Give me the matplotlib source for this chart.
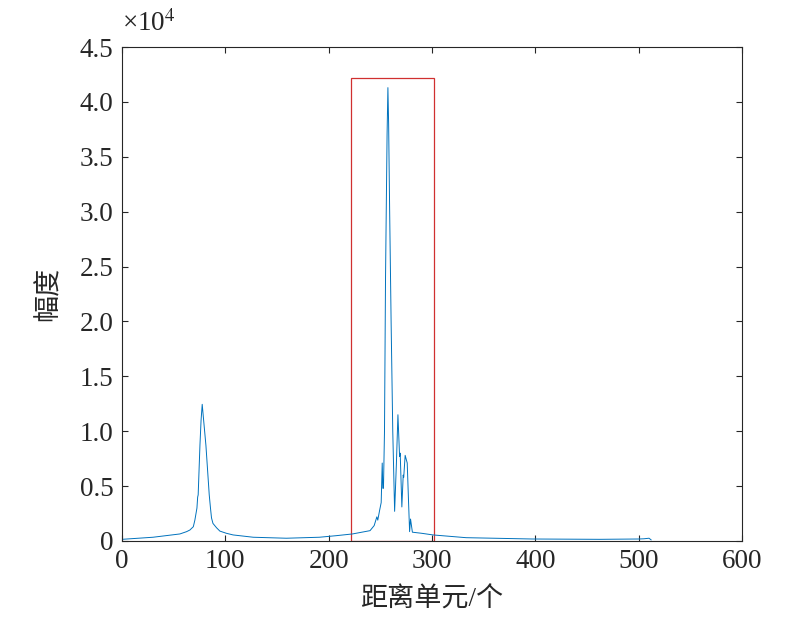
import matplotlib
matplotlib.use('Agg')
import matplotlib.pyplot as plt
from matplotlib.patches import Rectangle

plt.rcParams['font.family'] = ['Liberation Serif', 'Noto Sans CJK SC']
plt.rcParams['mathtext.fontset'] = 'stix'

# range cell index and amplitude (x1e4)
cells = [0, 30, 56, 62.5, 65.7, 69, 70.5, 72.5, 73.2, 73.7, 75.4, 76.5, 77.6, 78.5,
         81.2, 84.4, 85.6, 86.6, 88, 91.5, 94.7, 101, 107.5, 127, 159, 191, 207, 223,
         240, 244, 246.6, 247.5, 249.3, 250.8, 251.8, 252.4, 253, 254, 255, 256.5,
         257.3, 258, 259, 260.4, 262, 263.8, 265.5, 267, 268.6, 269.2, 270.8, 272.1,
         272.6, 274, 276, 277.3, 278.3, 279.2, 281, 290, 301, 333, 397, 462, 500,
         505, 510, 512]
amp = [0.015, 0.034, 0.064, 0.085, 0.10, 0.13, 0.19, 0.30, 0.40, 0.42, 0.87, 1.10, 1.245, 1.15,
       0.87, 0.42, 0.30, 0.21, 0.16, 0.12, 0.09, 0.07, 0.055, 0.034, 0.025, 0.034, 0.048, 0.064,
       0.094, 0.14, 0.22, 0.19, 0.28, 0.35, 0.71, 0.48, 0.48, 1.0, 2.4, 3.7,
       4.13, 3.8, 3.0, 2.0, 1.0, 0.27, 0.7, 1.15, 0.77, 0.80, 0.31, 0.60,
       0.58, 0.78, 0.71, 0.35, 0.085, 0.20, 0.08, 0.07, 0.055, 0.03, 0.018, 0.015, 0.018,
       0.02, 0.025, 0.01]

xticks = [0, 100, 200, 300, 400, 500, 600]
yticks = [0, 0.5, 1.0, 1.5, 2.0, 2.5, 3.0, 3.5, 4.0, 4.5]
ytick_labels = ['0', '0.5', '1.0', '1.5', '2.0', '2.5', '3.0', '3.5', '4.0', '4.5']

# highlighted target region
box_x0, box_x1, box_top = 222, 302, 4.22

fig = plt.figure(figsize=(8.07, 6.27), dpi=100)
ax = fig.add_axes([0.1512, 0.1372, 0.7683, 0.7878])

ax.plot(cells, amp, color='#0072BD', lw=0.7)
ax.add_patch(Rectangle((box_x0, 0), box_x1 - box_x0, box_top,
                       fill=False, edgecolor='#d03030', lw=0.9))

ax.set_xlim(0, 600)
ax.set_ylim(0, 4.5)
ax.set_xticks(xticks)
ax.set_yticks(yticks)
ax.set_yticklabels(ytick_labels)
ax.tick_params(direction='in', length=4, width=0.8, top=True, right=True,
               labelsize=19.5, colors='#262626', pad=6)
for s in ax.spines.values():
    s.set_color('#262626')
    s.set_linewidth(0.8)

ax.set_xlabel('距离单元/个', fontsize=19.5, color='#262626', labelpad=9)
ax.set_ylabel('幅度', fontsize=19.5, color='#262626', labelpad=13)
ax.text(0, 1.02, r'×10$^{4}$', transform=ax.transAxes, fontsize=19.5,
        color='#262626', ha='left', va='bottom')

fig.savefig('out.png', dpi=100)
